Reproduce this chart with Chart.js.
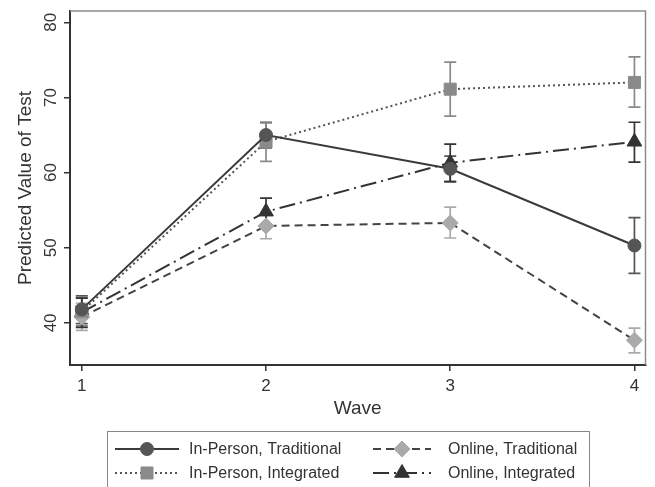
<!DOCTYPE html>
<html>
<head>
<meta charset="utf-8">
<script src="https://cdn.jsdelivr.net/npm/chart.js@4.4.1/dist/chart.umd.min.js"></script>
<style>
  html, body { margin: 0; padding: 0; background: #fff; }
  #wrap { width: 655px; height: 487px; }
</style>
</head>
<body>
<div id="wrap"><canvas id="chart" width="655" height="487"></canvas></div>
<script>
// values
const waves = [1, 2, 3, 4];
const yTicks = [40, 50, 60, 70, 80];

const ipTrad   = [41.8, 65.0, 60.5, 50.3];
const ipTradLo = [39.9, 63.3, 58.8, 46.6];
const ipTradHi = [43.6, 66.7, 62.2, 54.0];

const ipInt   = [41.5, 64.1, 71.1, 72.0];
const ipIntLo = [39.6, 61.5, 67.5, 68.7];
const ipIntHi = [43.4, 66.6, 74.7, 75.4];

const onTrad   = [40.8, 52.9, 53.3, 37.7];
const onTradLo = [39.0, 51.2, 51.3, 36.0];
const onTradHi = [42.6, 54.6, 55.4, 39.3];

const onInt   = [41.4, 54.8, 61.3, 64.1];
const onIntLo = [39.4, 53.0, 58.8, 61.4];
const onIntHi = [43.3, 56.6, 63.8, 66.7];

const FONT = "'Liberation Sans', Arial, sans-serif";
const TXT = "#333";

function pts(vals) {
  return vals.map((v, i) => ({ x: waves[i], y: v }));
}

const series = [
  { label: "In-Person, Traditional", data: ipTrad, lo: ipTradLo, hi: ipTradHi,
    line: "#3a3a3a", mark: "#555", err: "#555", dash: [], style: "circle", r: 6.5 },
  { label: "In-Person, Integrated", data: ipInt, lo: ipIntLo, hi: ipIntHi,
    line: "#555", mark: "#8a8a8a", err: "#8a8a8a", dash: [2, 3], style: "rect", r: 8.5 },
  { label: "Online, Traditional", data: onTrad, lo: onTradLo, hi: onTradHi,
    line: "#444", mark: "#aaa", err: "#aaa", dash: [8, 5], style: "rectRot", r: 8 },
  { label: "Online, Integrated", data: onInt, lo: onIntLo, hi: onIntHi,
    line: "#333", mark: "#333", err: "#333", dash: [16, 5, 2, 5], style: "triangle", r: 8.5 }
];

const errorBars = {
  id: "errorBars",
  beforeDatasetsDraw(chart) {
    const { ctx, scales: { x, y } } = chart;
    ctx.save();
    ctx.lineWidth = 1.7;
    series.forEach(s => {
      ctx.strokeStyle = s.err;
      waves.forEach((w, i) => {
        const px = x.getPixelForValue(w);
        const top = y.getPixelForValue(s.hi[i]);
        const bot = y.getPixelForValue(s.lo[i]);
        ctx.beginPath();
        ctx.moveTo(px, top); ctx.lineTo(px, bot);
        ctx.moveTo(px - 6, top); ctx.lineTo(px + 6, top);
        ctx.moveTo(px - 6, bot); ctx.lineTo(px + 6, bot);
        ctx.stroke();
      });
    });
    ctx.restore();
  }
};

const decor = {
  id: "decor",
  beforeDraw(chart) {
    const { ctx } = chart;
    ctx.save();
    ctx.fillStyle = "#fff";
    ctx.fillRect(0, 0, chart.width, chart.height);
    ctx.restore();
  },
  afterDraw(chart) {
    const { ctx, chartArea: a, scales: { y } } = chart;
    ctx.save();
    // top & right frame
    ctx.strokeStyle = "#8c8c8c";
    ctx.lineWidth = 1.5;
    ctx.beginPath();
    ctx.moveTo(a.left, a.top); ctx.lineTo(a.right, a.top); ctx.lineTo(a.right, a.bottom);
    ctx.stroke();

    // rotated y tick labels
    ctx.fillStyle = TXT;
    ctx.font = "17px " + FONT;
    ctx.textAlign = "center";
    ctx.textBaseline = "middle";
    yTicks.forEach(t => {
      ctx.save();
      ctx.translate(51, y.getPixelForValue(t));
      ctx.rotate(-Math.PI / 2);
      ctx.fillText(String(t), 0, 0);
      ctx.restore();
    });

    // axis titles
    ctx.font = "19px " + FONT;
    ctx.save();
    ctx.translate(26, (a.top + a.bottom) / 2);
    ctx.rotate(-Math.PI / 2);
    ctx.fillText("Predicted Value of Test", 0, 0);
    ctx.restore();
    ctx.fillText("Wave", (a.left + a.right) / 2, 409);

    // legend
    ctx.strokeStyle = "#888";
    ctx.lineWidth = 1;
    ctx.strokeRect(107.5, 431.5, 482, 60);
    const cells = [
      { s: series[0], x0: 115, x1: 179, tx: 189, y: 449 },
      { s: series[2], x0: 373, x1: 431, tx: 448, y: 449 },
      { s: series[1], x0: 115, x1: 179, tx: 189, y: 473 },
      { s: series[3], x0: 373, x1: 431, tx: 448, y: 473 }
    ];
    cells.forEach(c => {
      ctx.save();
      ctx.strokeStyle = c.s.line;
      ctx.lineWidth = 2;
      ctx.setLineDash(c.s.dash);
      ctx.beginPath();
      ctx.moveTo(c.x0, c.y); ctx.lineTo(c.x1, c.y);
      ctx.stroke();
      ctx.restore();
      ctx.fillStyle = c.s.mark;
      ctx.strokeStyle = c.s.mark;
      ctx.lineWidth = 1;
      Chart.helpers.drawPoint(ctx, { pointStyle: c.s.style, radius: c.s.r, rotation: 0, borderWidth: 1 },
        (c.x0 + c.x1) / 2, c.y);
      ctx.fillStyle = TXT;
      ctx.font = "16px " + FONT;
      ctx.textAlign = "left";
      ctx.textBaseline = "middle";
      ctx.fillText(c.s.label, c.tx, c.y + 1);
    });
    ctx.restore();
  }
};

new Chart(document.getElementById("chart").getContext("2d"), {
  type: "line",
  data: {
    datasets: series.map(s => ({
      label: s.label,
      data: pts(s.data),
      borderColor: s.line,
      borderWidth: 2,
      borderDash: s.dash,
      pointStyle: s.style,
      pointRadius: s.r,
      pointBackgroundColor: s.mark,
      pointBorderColor: s.mark,
      pointBorderWidth: 1,
      tension: 0,
      fill: false
    }))
  },
  options: {
    responsive: false,
    animation: false,
    layout: { padding: { top: 11, right: 2, left: 0, bottom: 0 } },
    plugins: { legend: { display: false }, tooltip: { enabled: false } },
    scales: {
      x: {
        type: "linear",
        min: 0.936,
        max: 4.06,
        afterBuildTicks: s => { s.ticks = waves.map(v => ({ value: v })); },
        afterFit: s => { s.height = 122; },
        grid: { drawOnChartArea: false, drawTicks: true, tickLength: 6, color: "#333", lineWidth: 1.5 },
        border: { color: "#333", width: 2 },
        ticks: { color: TXT, font: { family: FONT, size: 17 }, padding: 5, maxRotation: 0 }
      },
      y: {
        type: "linear",
        min: 34.4,
        max: 81.5,
        afterBuildTicks: s => { s.ticks = yTicks.map(v => ({ value: v })); },
        afterFit: s => { s.width = 70; },
        grid: { drawOnChartArea: false, drawTicks: true, tickLength: 6, color: "#333", lineWidth: 1.5 },
        border: { color: "#333", width: 2 },
        ticks: { display: false }
      }
    }
  },
  plugins: [decor, errorBars]
});
</script>
</body>
</html>
